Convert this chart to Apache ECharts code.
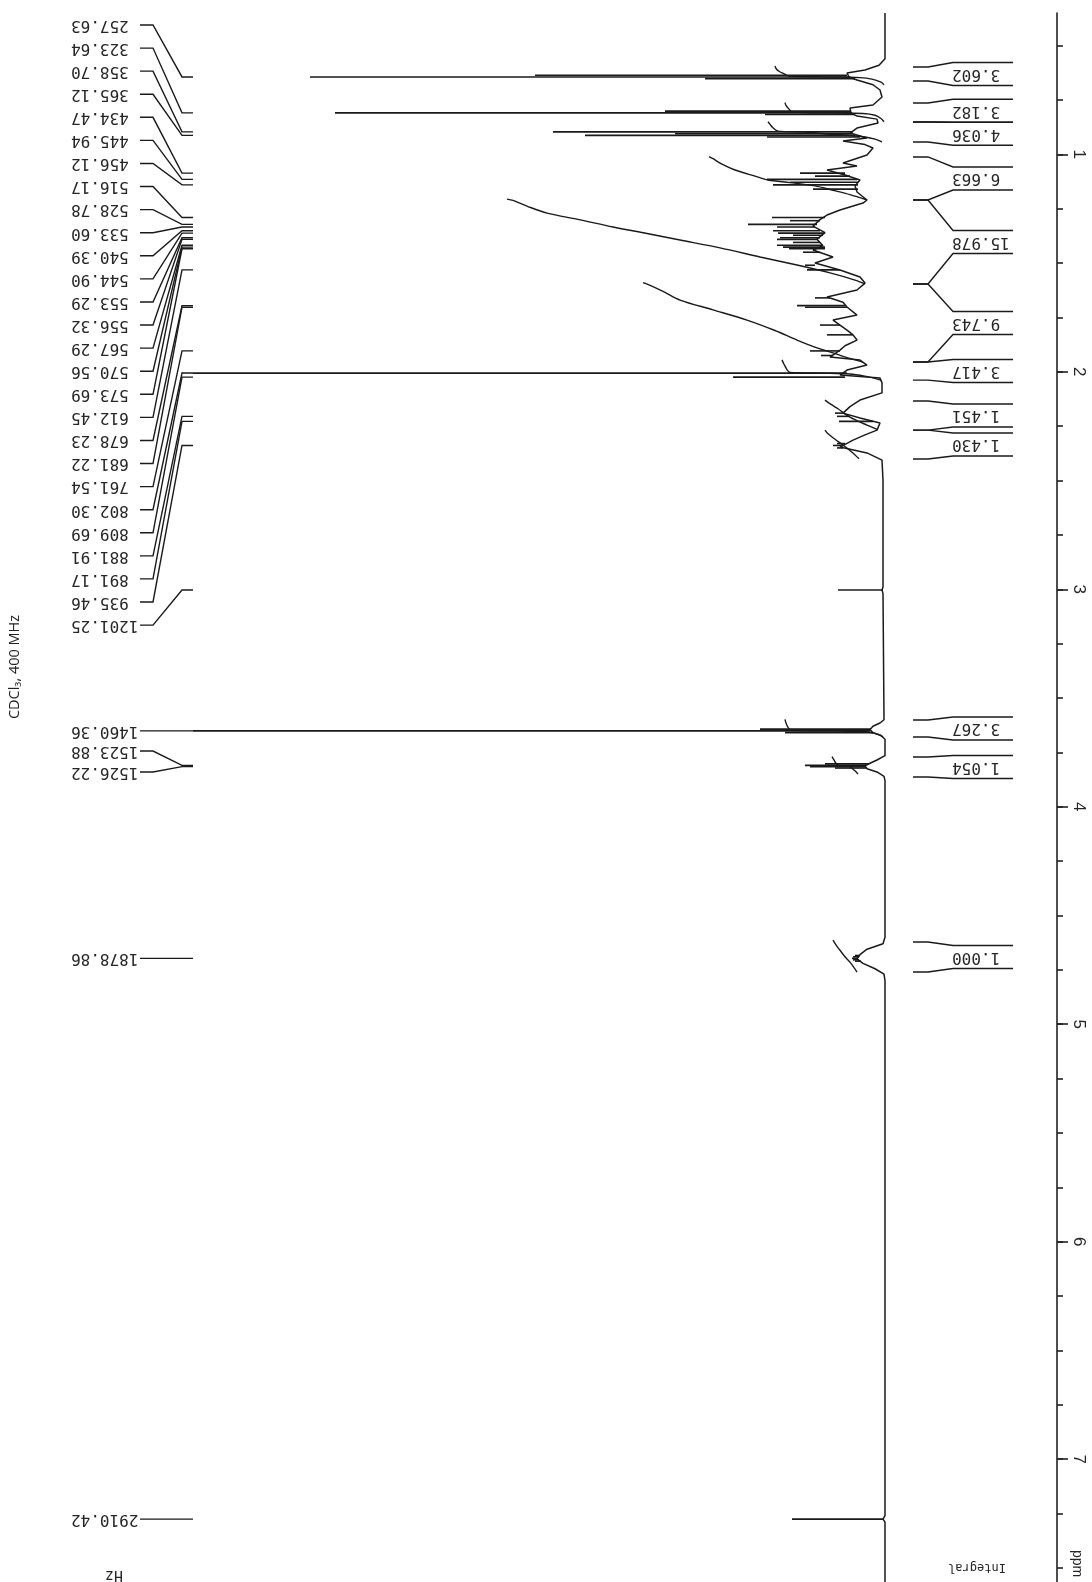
<!DOCTYPE html>
<html>
<head>
<meta charset="utf-8">
<script src="https://cdn.jsdelivr.net/npm/echarts@6.0.0/dist/echarts.min.js"></script>
</head>
<body style="margin:0;background:#fff">
<div id="container" style="width:1092px;height:1582px"></div>
<script>
// 1H NMR, CDCl3, 400 MHz - spectrum is drawn turned on its side (ppm runs down the page)
var specMHz = 400;
var ppmMin = 0.35, ppmMax = 7.565;
var ppmLabels = [1, 2, 3, 4, 5, 6, 7];

// peak picking labels (Hz)
var peakHz = [257.63, 323.64, 358.70, 365.12, 434.47, 445.94, 456.12, 516.17, 528.78,
  533.60, 540.39, 544.90, 553.29, 556.32, 567.29, 570.56, 573.69, 612.45, 678.23,
  681.22, 761.54, 802.30, 809.69, 881.91, 891.17, 935.46, 1201.25, 1460.36,
  1523.88, 1526.22, 1878.86, 2910.42];

// spectrum envelope (ppm, intensity)
var tracePpm = [0.350, 0.560, 0.590, 0.612, 0.626, 0.644, 0.658, 0.680, 0.704, 0.736,
  0.773, 0.787, 0.809, 0.824, 0.838, 0.856, 0.879, 0.902, 0.925, 0.939, 0.955, 0.971,
  1.003, 1.040, 1.054, 1.072, 1.095, 1.118, 1.145, 1.173, 1.210, 1.224, 1.256, 1.279,
  1.300, 1.330, 1.360, 1.390, 1.420, 1.440, 1.472, 1.500, 1.532, 1.564, 1.592, 1.624,
  1.656, 1.680, 1.702, 1.739, 1.762, 1.785, 1.808, 1.830, 1.854, 1.880, 1.900, 1.932,
  1.946, 1.969, 1.992, 2.015, 2.029, 2.051, 2.097, 2.130, 2.160, 2.190, 2.212, 2.235,
  2.268, 2.290, 2.314, 2.346, 2.373, 2.406, 2.500, 2.990, 3.003, 3.020, 3.600, 3.615,
  3.630, 3.645, 3.660, 3.672, 3.690, 3.765, 3.785, 3.800, 3.812, 3.825, 3.840, 3.860,
  3.880, 4.600, 4.630, 4.655, 4.680, 4.700, 4.720, 4.745, 4.770, 4.800, 7.260, 7.276,
  7.290, 7.565];
var traceInt = [0, 0, 6, 20, 38, 36, 28, 12, 5, 3,
  12, 35, 34, 28, 8, 7, 28, 35, 18, 42, 20, 12,
  18, 42, 28, 58, 40, 25, 30, 28, 18, 22, 45, 58,
  65, 72, 60, 68, 62, 72, 52, 70, 45, 25, 20, 28,
  58, 42, 38, 28, 52, 45, 38, 32, 28, 40, 45, 55,
  25, 18, 38, 45, 5, 3, 3, 25, 35, 42, 25, 5,
  8, 20, 32, 45, 18, 3, 2, 2, 3, 2, 1, 5,
  12, 15, 12, 4, 0, 0, 8, 15, 20, 18, 8, 1,
  0, 0, 2, 18, 25, 28, 22, 10, 1, 0, 0, 2,
  0, 0];

// individual lines: position, foot and tip intensity
var peakPpm = [0.636, 0.6441, 0.652, 0.801, 0.8091, 0.817, 0.8968, 0.905, 0.9128, 0.920,
  1.0862, 1.100, 1.1149, 1.128, 1.1403, 1.160, 1.2904, 1.305, 1.3220, 1.3340, 1.3510,
  1.3623, 1.372, 1.3832, 1.3908, 1.405, 1.4182, 1.4264, 1.4342, 1.450, 1.510, 1.5311,
  1.660, 1.6956, 1.7031, 1.785, 1.830, 1.9039, 1.925, 2.0058, 2.0242, 2.190, 2.2048,
  2.2279, 2.330, 2.3387, 2.350, 3.0031, 3.643, 3.6509, 3.659, 3.803, 3.8097, 3.8156,
  3.822, 4.684, 4.690, 4.6972, 4.704, 4.710, 7.2760];
var peakBase = [38, 35, 30, 35, 33, 30, 32, 33, 30, 25,
  40, 35, 28, 27, 27, 27, 60, 65, 68, 70, 65,
  60, 62, 65, 67, 65, 62, 60, 60, 65, 70, 45,
  55, 40, 38, 45, 32, 45, 52, 38, 40, 42, 35,
  12, 40, 43, 42, 2, 14, 15, 12, 16, 19, 19,
  18, 25, 26, 28, 26, 24, 2];
var peakTip = [350, 575, 180, 220, 550, 120, 332, 210, 300, 118,
  85, 70, 118, 95, 112, 72, 113, 95, 137, 108, 112,
  107, 92, 105, 108, 92, 108, 102, 96, 82, 80, 78,
  70, 88, 80, 65, 58, 75, 64, 692, 152, 50, 48,
  46, 48, 52, 48, 47, 125, 692, 100, 60, 80, 75,
  50, 30, 32, 33, 32, 30, 93];

// integrals
var integralValue = ['3.602', '3.182', '4.036', '6.663', '15.978', '9.743', '3.417',
  '1.451', '1.430', '3.267', '1.054', '1.000'];
var integralFrom = [0.598, 0.764, 0.851, 1.012, 1.210, 1.596, 1.955, 2.134, 2.268, 3.601, 3.771, 4.622];
var integralTo = [0.663, 0.851, 0.943, 1.210, 1.596, 1.955, 2.038, 2.268, 2.401, 3.679, 3.863, 4.760];
// integral curves (ppm, height)
var integralCurves = [
  [[0.594,110],[0.605,109],[0.618,106],[0.632,100],[0.641,96],[0.644,60],[0.647,25],[0.655,12],[0.668,4],[0.680,1]],
  [[0.762,100],[0.775,99],[0.792,96],[0.805,93],[0.809,55],[0.812,22],[0.820,10],[0.835,4],[0.850,1]],
  [[0.850,117],[0.862,115],[0.878,112],[0.893,107],[0.897,80],[0.905,60],[0.913,35],[0.920,20],[0.930,10],[0.943,3]],
  [[1.010,176],[1.020,172],[1.045,163],[1.072,150],[1.100,130],[1.118,117],[1.130,95],[1.145,70],[1.165,52],[1.185,35],[1.210,18]],
  [[1.206,378],[1.212,372],[1.240,357],[1.270,338],[1.300,306],[1.334,272],[1.364,238],[1.394,205],[1.430,165],[1.472,125],[1.509,88],[1.545,55],[1.578,30],[1.596,20]],
  [[1.590,242],[1.600,236],[1.630,222],[1.670,205],[1.715,172],[1.762,138],[1.810,110],[1.854,88],[1.890,68],[1.913,52],[1.935,38],[1.955,22]],
  [[1.945,103],[1.965,101],[1.990,98],[2.003,95],[2.006,60],[2.010,35],[2.020,20],[2.030,10],[2.038,4]],
  [[2.130,60],[2.150,54],[2.170,47],[2.200,38],[2.225,28],[2.245,18],[2.265,8]],
  [[2.268,60],[2.285,57],[2.310,50],[2.340,41],[2.370,33],[2.400,26]],
  [[3.598,100],[3.615,99],[3.635,97],[3.648,94],[3.651,50],[3.655,20],[3.665,8],[3.679,2]],
  [[3.770,53],[3.785,51],[3.800,49],[3.810,46],[3.813,35],[3.820,34],[3.835,30],[3.850,27]],
  [[4.613,52],[4.635,49],[4.660,45],[4.690,40],[4.720,34],[4.760,28]]
];

var ink = '#1a1a1a';
var textInk = '#262626';
var monoFont = '"DejaVu Sans Mono", monospace';

var quarterTicks = [];
for (var t = 0.5; t <= 7.5001; t += 0.25) quarterTicks.push(+t.toFixed(2));

// where the Hz labels sit in the left column
function hzLabelY(i, peakY) {
  if (i < 27) return 25 + i * 23.08;
  if (i === 28) return 751;
  if (i === 29) return 772;
  return peakY;
}

// integral label boxes, pushed apart when they touch
function bracketLayout(api) {
  var out = integralFrom.map(function (f, i) {
    var a = api.coord([0, f])[1], b = api.coord([0, integralTo[i]])[1];
    var c = (a + b) / 2;
    return { a: a, b: b, top: c - 11.5, bot: c + 11.5 };
  });
  for (var i = 1; i < out.length; i++) {
    var d = out[i - 1].bot - out[i].top;
    if (d > 0) {
      out[i - 1].top -= d / 2; out[i - 1].bot -= d / 2;
      out[i].top += d / 2; out[i].bot += d / 2;
    }
  }
  return out;
}

var dom = document.getElementById('container');
var myChart = echarts.init(dom, null, { renderer: 'canvas' });

var series = [];
series.push({
  type: 'line', name: 'spectrum', showSymbol: false, silent: true,
  data: tracePpm.map(function (p, i) { return [traceInt[i], p]; }),
  lineStyle: { color: ink, width: 1.5 }, z: 3
});
series.push({
  type: 'custom', name: 'lines', silent: true,
  data: peakPpm.map(function (p, i) { return [peakBase[i], peakTip[i], p]; }),
  encode: { x: [0, 1], y: 2 },
  renderItem: function (params, api) {
    var s = api.coord([api.value(0), api.value(2)]);
    var e = api.coord([api.value(1), api.value(2)]);
    return { type: 'line', shape: { x1: s[0], y1: s[1], x2: e[0], y2: e[1] },
      style: { stroke: ink, lineWidth: 1.6 } };
  }, z: 4
});
integralCurves.forEach(function (c, k) {
  series.push({
    type: 'line', name: 'int' + k, showSymbol: false, silent: true, smooth: 0.3,
    data: c.map(function (pt) { return [pt[1], pt[0]]; }),
    lineStyle: { color: ink, width: 1.4 }, z: 3
  });
});
series.push({
  type: 'custom', name: 'hz labels', silent: true,
  data: peakHz.map(function (hz, i) { return [0, hz / specMHz, i]; }),
  encode: { x: 0, y: 1 },
  renderItem: function (params, api) {
    var i = api.value(2);
    var py = api.coord([0, api.value(1)])[1];
    var ly = hzLabelY(i, py);
    return { type: 'group', children: [
      { type: 'text', x: 71, y: ly, rotation: Math.PI,
        style: { text: peakHz[i].toFixed(2), font: '16px ' + monoFont, fill: textInk,
          textAlign: 'right', textVerticalAlign: 'middle' } },
      { type: 'polyline', shape: { points: [[140, ly], [153, ly], [182, py], [193, py]] },
        style: { stroke: ink, lineWidth: 1.4, fill: null } }
    ] };
  }, z: 5
});
series.push({
  type: 'custom', name: 'integral labels', silent: true,
  data: integralFrom.map(function (f, i) { return [0, f, i]; }),
  encode: { x: 0, y: 1 },
  renderItem: function (params, api) {
    var i = api.value(2);
    var L = bracketLayout(api)[i];
    return { type: 'group', children: [
      { type: 'polyline', shape: { points: [[913, L.a], [928, L.a], [953, L.top], [1013, L.top]] },
        style: { stroke: ink, lineWidth: 1.4, fill: null } },
      { type: 'polyline', shape: { points: [[913, L.b], [928, L.b], [953, L.bot], [1013, L.bot]] },
        style: { stroke: ink, lineWidth: 1.4, fill: null } },
      { type: 'text', x: 952, y: (L.top + L.bot) / 2, rotation: Math.PI,
        style: { text: integralValue[i], font: '16px ' + monoFont, fill: textInk,
          textAlign: 'right', textVerticalAlign: 'middle' } }
    ] };
  }, z: 5
});

var option = {
  animation: false,
  backgroundColor: '#fff',
  grid: { left: 185, right: 207, top: 13, bottom: 0, outerBoundsMode: 'none' },
  xAxis: { type: 'value', min: 0, max: 700, inverse: true, show: false },
  yAxis: [{
    type: 'value', inverse: true, min: ppmMin, max: ppmMax, position: 'right', offset: 172,
    axisLine: { show: true, onZero: false, lineStyle: { color: '#222', width: 1.6 } },
    axisTick: { show: true, length: 6, customValues: quarterTicks, lineStyle: { color: '#222', width: 1.6 } },
    axisLabel: { show: false },
    splitLine: { show: false }
  }, {
    type: 'value', inverse: true, min: ppmMin, max: ppmMax, position: 'right', offset: 172,
    axisLine: { show: false, onZero: false },
    axisTick: { show: true, length: 11, customValues: ppmLabels, lineStyle: { color: '#222', width: 1.6 } },
    axisLabel: { show: true, customValues: ppmLabels.concat([7.48]), rotate: -90, margin: 13,
      fontSize: 17, fontFamily: 'Liberation Sans', color: '#262626',
      formatter: function (v) { return v === 7.48 ? '{p|ppm}' : String(v); },
      rich: { p: { fontSize: 14, fontFamily: 'Liberation Sans', color: '#262626' } } },
    splitLine: { show: false }
  }],
  graphic: [
    { type: 'text', x: 15, y: 667, rotation: Math.PI / 2,
      style: { text: 'CDCl\u2083, 400 MHz', font: '14.5px "Open Sans", "DejaVu Sans"', fill: '#222',
        textAlign: 'center', textVerticalAlign: 'middle' } },
    { type: 'text', x: 114, y: 1575, rotation: Math.PI,
      style: { text: 'Hz', font: '15px ' + monoFont, fill: textInk, textAlign: 'center', textVerticalAlign: 'middle' } },
    { type: 'text', x: 977, y: 1567, rotation: Math.PI,
      style: { text: 'Integral', font: '12px ' + monoFont, fill: textInk, textAlign: 'center', textVerticalAlign: 'middle' } }
  ],
  series: series
};
myChart.setOption(option);
</script>
</body>
</html>
